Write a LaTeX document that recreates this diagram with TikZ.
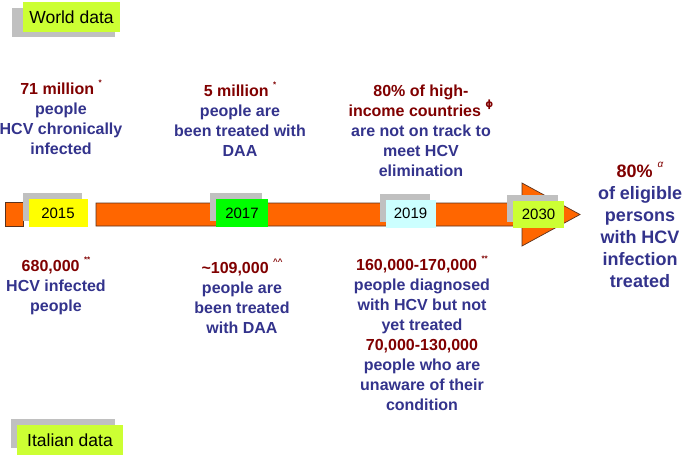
\documentclass[tikz,border=0pt]{standalone}
\usepackage{fontspec}
\setmainfont{Liberation Sans}
\newfontfamily\symfont{DejaVu Sans}
\usetikzlibrary{shadows}
\definecolor{dred}{RGB}{128,0,0}
\definecolor{dblue}{RGB}{51,51,140}
\definecolor{barorange}{RGB}{255,102,0}
\definecolor{barline}{RGB}{90,50,30}
\definecolor{shadowgrey}{RGB}{192,192,192}
\definecolor{limegreen}{RGB}{204,255,51}
\definecolor{yel}{RGB}{255,255,0}
\definecolor{grn}{RGB}{0,255,0}
\definecolor{lcyan}{RGB}{204,255,255}
\newcommand\supmk[1]{\smash{\raisebox{0.55em}{\fontsize{8}{8}\selectfont #1}}}
\begin{document}
\begin{tikzpicture}[x=1pt,y=-1pt,
  yearbox/.style={fill=#1, draw=none, inner sep=0, minimum height=28pt,
    font=\fontsize{15}{15}\selectfont, text=black,
    general shadow={fill=shadowgrey, shadow xshift=-6pt, shadow yshift=6pt}},
  labelbox/.style={fill=limegreen, draw=none, inner sep=0,
    font=\fontsize{17.5}{17.5}\selectfont, text=black},
  grp/.style={font=\fontsize{16}{20}\selectfont\bfseries, text=dblue,
    align=center, inner sep=0, anchor=north},
  grpbig/.style={font=\fontsize{18}{22}\selectfont\bfseries, text=dblue,
    align=center, inner sep=0, anchor=north}]
\useasboundingbox (0,0) rectangle (685,458);

% label boxes
\fill[shadowgrey] (12,8) rectangle (115,37);
\node[labelbox, minimum width=97pt, minimum height=30pt] (world) at (71.5,17) {World data};
\fill[shadowgrey] (11,419) rectangle (115,448);
\node[labelbox, minimum width=106pt, minimum height=30pt] (italian) at (70,440) {Italian data};

% timeline bar
\draw[fill=barorange, draw=barline, line width=0.7pt] (5,202) rectangle (23,226);
\draw[fill=barorange, draw=barline, line width=0.7pt]
  (96,203) -- (522,203) -- (522,183) -- (580,214.5) -- (522,246) -- (522,226) -- (96,226) -- cycle;

% year boxes
\node[yearbox=yel, minimum width=59pt] (y2015) at (58,213) {2015};
\node[yearbox=grn, minimum width=52pt] (y2017) at (242,213) {2017};
\node[yearbox=lcyan, minimum width=50pt] (y2019) at (410.5,213.5) {2019};
\node[yearbox=limegreen, minimum width=51pt, minimum height=27pt] (y2030) at (538.5,214.5) {2030};

% world data texts
\node[grp] (w1) at (61,83) {{\color{dred}71 million \supmk{*}}\\people\\HCV chronically\\infected};
\node[grp] (w2) at (240,85) {{\color{dred}5 million \supmk{*}}\\people are\\been treated with\\DAA};
\node[grp] (w3) at (421,85) {{\color{dred}80\% of high-}\\{\color{dred}income countries \supmk{\fontsize{10}{10}\selectfont\symfont ϕ}}\\are not on track to\\meet HCV\\elimination};
\node[grpbig] (goal) at (640,165) {{\color{dred}80\% \supmk{\fontsize{10}{10}\selectfont\mdseries\itshape α}}\\of eligible\\persons\\with HCV\\infection\\treated};

% italian data texts
\node[grp] (i1) at (56,260) {{\color{dred}680,000 \supmk{**}}\\HCV infected\\people};
\node[grp] (i2) at (242,262) {{\color{dred}\textasciitilde109,000 \supmk{\textasciicircum\textasciicircum}}\\people are\\been treated\\with DAA};
\node[grp] (i3) at (422,259) {{\color{dred}160,000-170,000 \supmk{**}}\\people diagnosed\\with HCV but not\\yet treated\\{\color{dred}70,000-130,000}\\people who are\\unaware of their\\condition};
\end{tikzpicture}
\end{document}
